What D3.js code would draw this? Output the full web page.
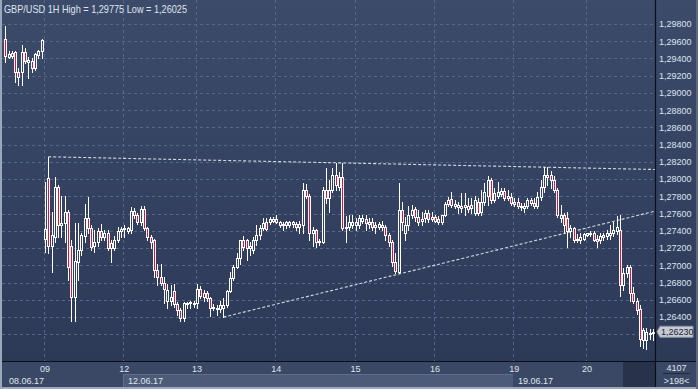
<!DOCTYPE html>
<html><head><meta charset="utf-8">
<script src="https://cdn.jsdelivr.net/npm/d3@7"></script>
<style>
html,body{margin:0;padding:0;background:#34415e;}
svg{display:block;font-family:"Liberation Sans",Arial,sans-serif;}
</style></head><body>
<svg id="c" width="698" height="389"></svg>
<script>
const titleText = "GBP/USD 1H High = 1,29775 Low = 1,26025";
// hourly candles [open, high, low, close], one array per trading day
const d0806 = [
[1.2963,1.29775,1.2936,1.2943],[1.2942,1.2949,1.2941,1.2945],[1.2943,1.2949,1.2941,1.2946],
[1.2947,1.2949,1.2913,1.2924],[1.2924,1.2929,1.2909,1.2918],[1.2924,1.2956,1.2909,1.2947],
[1.2947,1.2952,1.2935,1.2937],[1.2936,1.2942,1.2917,1.2938],[1.2937,1.2941,1.2924,1.2929],
[1.2929,1.2946,1.2927,1.2945],[1.2944,1.2950,1.2941,1.2949],[1.2949,1.2963,1.2941,1.2961]];
const d0906 = [
[1.2731,1.2797,1.2715,1.2742],[1.2801,1.2826,1.2714,1.2723],[1.2722,1.2762,1.2692,1.2735],
[1.2733,1.2802,1.2727,1.2791],[1.2791,1.2793,1.2733,1.2747],[1.2747,1.2781,1.2733,1.2749],
[1.2749,1.2781,1.2727,1.2762],[1.2762,1.2764,1.2683,1.2698],[1.2723,1.2729,1.2636,1.2663],
[1.2663,1.2749,1.2636,1.2705],[1.2704,1.2749,1.2683,1.2718],[1.2718,1.2738,1.2712,1.2735],
[1.2734,1.2771,1.2727,1.2755],[1.2755,1.2779,1.2738,1.2743],[1.2743,1.2747,1.2718,1.2721],
[1.2722,1.2741,1.2715,1.2727],[1.2727,1.2743,1.2722,1.2740],[1.2740,1.2748,1.2729,1.2733],
[1.2733,1.2741,1.2729,1.2737],[1.2738,1.2741,1.2718,1.2720],[1.2720,1.2729,1.2704,1.2726],
[1.2720,1.2734,1.2718,1.2730],[1.2730,1.2744,1.2727,1.2740],[1.2740,1.2745,1.2733,1.2742]];
const d1206 = [
[1.2742,1.2747,1.2733,1.2743],[1.2740,1.2745,1.2738,1.2743],[1.2741,1.2768,1.2738,1.2763],
[1.2763,1.2766,1.2755,1.2758],[1.2758,1.2761,1.2748,1.2750],[1.2750,1.2769,1.2747,1.2765],
[1.2765,1.2769,1.2741,1.2743],[1.2743,1.2745,1.2729,1.2733],[1.2733,1.2735,1.2720,1.2727],
[1.2729,1.2731,1.2686,1.2695],[1.2695,1.2702,1.2677,1.2687],[1.2687,1.2702,1.2677,1.2679],
[1.2679,1.2686,1.2656,1.2673],[1.2659,1.2678,1.2651,1.2672],[1.2659,1.2677,1.2654,1.2663],
[1.2670,1.2678,1.2652,1.2655],[1.2655,1.2657,1.2642,1.2648],[1.2648,1.2650,1.2636,1.2639],
[1.2639,1.2657,1.2636,1.2656],[1.2655,1.2658,1.2651,1.2656],[1.2656,1.2659,1.2651,1.2657],
[1.2655,1.2659,1.2652,1.2656]];
const d1306 = [
[1.2656,1.2678,1.2651,1.2673],[1.2673,1.2676,1.2662,1.2665],[1.2663,1.2671,1.2659,1.2668],
[1.2668,1.2670,1.2659,1.2662],[1.2662,1.2663,1.2641,1.2650],[1.2652,1.2655,1.2648,1.2650],
[1.2651,1.2654,1.2642,1.2649],[1.2649,1.2659,1.2646,1.2654],[1.2650,1.2662,1.2640,1.2654],
[1.2654,1.2671,1.2652,1.2670],[1.2670,1.2692,1.2669,1.2685],[1.2685,1.2700,1.2683,1.2698],
[1.2698,1.2714,1.2697,1.2708],[1.2708,1.2730,1.2702,1.2729],[1.2729,1.2734,1.2718,1.2721],
[1.2729,1.2731,1.2706,1.2720],[1.2720,1.2727,1.2712,1.2722],[1.2718,1.2733,1.2714,1.2729],
[1.2729,1.2747,1.2724,1.2735],[1.2735,1.2747,1.2731,1.2743],[1.2743,1.2755,1.2741,1.2749],
[1.2750,1.2755,1.2741,1.2742],[1.2750,1.2756,1.2748,1.2754],[1.2752,1.2756,1.2750,1.2754]];
const d1406 = [
[1.2754,1.2758,1.2749,1.2750],[1.2750,1.2752,1.2744,1.2747],[1.2747,1.2750,1.2741,1.2748],
[1.2750,1.2752,1.2743,1.2747],[1.2747,1.2752,1.2745,1.2750],[1.2750,1.2752,1.2745,1.2748],
[1.2748,1.2750,1.2741,1.2745],[1.2745,1.2751,1.2737,1.2748],[1.2747,1.2795,1.2737,1.2787],
[1.2787,1.2794,1.2778,1.2781],[1.2781,1.2783,1.2729,1.2738],[1.2738,1.2745,1.2723,1.2741],
[1.2741,1.2742,1.2721,1.2727],[1.2727,1.2731,1.2724,1.2728],[1.2727,1.2791,1.2726,1.2788],
[1.2788,1.2813,1.2772,1.2778],[1.2778,1.2799,1.2762,1.2788],[1.2788,1.2813,1.2785,1.2805],
[1.2805,1.2819,1.2787,1.2793],[1.2791,1.2808,1.2787,1.2802],[1.2802,1.2819,1.2741,1.2743],
[1.2743,1.2757,1.2727,1.2745],[1.2744,1.2758,1.2741,1.2750],[1.2747,1.2758,1.2743,1.2750]];
const d1506 = [
[1.2750,1.2755,1.2741,1.2747],[1.2747,1.2758,1.2743,1.2755],[1.2752,1.2758,1.2749,1.2755],
[1.2754,1.2758,1.2741,1.2749],[1.2748,1.2755,1.2743,1.2750],[1.2750,1.2755,1.2741,1.2744],
[1.2744,1.2750,1.2738,1.2747],[1.2745,1.2750,1.2742,1.2748],[1.2747,1.2752,1.2741,1.2744],
[1.2744,1.2747,1.2729,1.2735],[1.2735,1.2737,1.2722,1.2727],[1.2727,1.2729,1.2699,1.2704],
[1.2704,1.2714,1.2691,1.2694],[1.2692,1.2795,1.2691,1.2764],[1.2764,1.2773,1.2741,1.2750],
[1.2737,1.2756,1.2729,1.2747],[1.2747,1.2769,1.2741,1.2758],[1.2758,1.2770,1.2755,1.2764],
[1.2765,1.2768,1.2752,1.2756],[1.2756,1.2764,1.2747,1.2750],[1.2751,1.2762,1.2747,1.2754],
[1.2755,1.2764,1.2750,1.2761],[1.2761,1.2764,1.2750,1.2754],[1.2754,1.2762,1.2751,1.2756]];
const d1606 = [
[1.2756,1.2759,1.2750,1.2751],[1.2754,1.2757,1.2748,1.2750],[1.2750,1.2759,1.2748,1.2758],
[1.2758,1.2773,1.2757,1.2771],[1.2771,1.2779,1.2769,1.2776],[1.2777,1.2785,1.2768,1.2770],
[1.2771,1.2776,1.2766,1.2769],[1.2768,1.2773,1.2761,1.2770],[1.2766,1.2784,1.2762,1.2769],
[1.2770,1.2784,1.2758,1.2768],[1.2765,1.2778,1.2762,1.2769],[1.2770,1.2778,1.2761,1.2766],
[1.2761,1.2780,1.2758,1.2776],[1.2774,1.2778,1.2758,1.2761],[1.2762,1.2787,1.2759,1.2774],
[1.2774,1.2795,1.2770,1.2785],[1.2781,1.2804,1.2770,1.2799],[1.2799,1.2801,1.2772,1.2776],
[1.2776,1.2790,1.2773,1.2784],[1.2781,1.2797,1.2778,1.2785],[1.2783,1.2790,1.2780,1.2786],
[1.2786,1.2790,1.2776,1.2778],[1.2778,1.2788,1.2776,1.2781],[1.2779,1.2784,1.2770,1.2772]];
const d1906 = [
[1.2774,1.2778,1.2769,1.2771],[1.2773,1.2778,1.2766,1.2769],[1.2768,1.2772,1.2764,1.2769],
[1.2766,1.2772,1.2762,1.2769],[1.2769,1.2778,1.2766,1.2776],[1.2776,1.2778,1.2770,1.2772],
[1.2772,1.2778,1.2766,1.2769],[1.2769,1.2785,1.2766,1.2779],[1.2779,1.2799,1.2776,1.2791],
[1.2791,1.2814,1.2785,1.2805],[1.2802,1.2814,1.2793,1.2805],[1.2805,1.2810,1.2790,1.2799],
[1.2799,1.2804,1.2785,1.2787],[1.2787,1.2790,1.2756,1.2758],[1.2755,1.2770,1.2750,1.2758],
[1.2758,1.2761,1.2738,1.2747],[1.2755,1.2762,1.2721,1.2740],[1.2740,1.2747,1.2733,1.2743],
[1.2743,1.2744,1.2727,1.2729],[1.2729,1.2736,1.2727,1.2731],[1.2729,1.2737,1.2726,1.2733],
[1.2731,1.2738,1.2729,1.2736]];
const d2006 = [
[1.2735,1.2738,1.2734,1.2737],[1.2736,1.2740,1.2734,1.2737],[1.2737,1.2740,1.2728,1.2730],
[1.2731,1.2735,1.2721,1.2728],[1.2729,1.2737,1.2726,1.2734],[1.2735,1.2738,1.2730,1.2733],
[1.2734,1.2741,1.2731,1.2737],[1.2735,1.2747,1.2731,1.2738],[1.2737,1.2750,1.2734,1.2741],
[1.2740,1.2757,1.2736,1.2744],[1.2741,1.2758,1.2665,1.2677],[1.2677,1.2697,1.2671,1.2691],
[1.2691,1.2700,1.2686,1.2698],[1.2698,1.2700,1.2659,1.2668],[1.2668,1.2675,1.2656,1.2659],
[1.2659,1.2662,1.2644,1.2648],[1.2649,1.2654,1.2607,1.2615],[1.2614,1.2627,1.2604,1.2625],
[1.2613,1.2627,1.26025,1.2623],[1.2621,1.2626,1.2615,1.2622],[1.2621,1.2626,1.2613,1.2623]];
const days = [d0806,d0906,d1206,d1306,d1406,d1506,d1606,d1906,d2006];
const dayLabels = [null,"09","12","13","14","15","16","19","20"];
const weekLabels = ["08.06.17","12.06.17","19.06.17"];
const weekStartDay = [0,2,7];
const yTicks = [1.262,1.264,1.266,1.268,1.270,1.272,1.274,1.276,1.278,1.280,1.282,1.284,1.286,1.288,1.290,1.292,1.294,1.296,1.298];
// trend lines: [candle index, price] anchors, extended to the right edge
const trendUpper = [[13,1.2826],[100,1.2819]];
const trendLower = [[66,1.2640],[185,1.2752]];
const footTop = "4107", footBottom = ">198<";

const W=698,H=389,PL=2,PR=655,PT=0,PB=361;
const svg = d3.select("#c");
const defs = svg.append("defs");
const gr = defs.append("linearGradient").attr("id","bg").attr("x1",0).attr("y1",0).attr("x2",0).attr("y2",1);
gr.append("stop").attr("offset",0).attr("stop-color","#3d4b6b");
gr.append("stop").attr("offset",1).attr("stop-color","#2c3957");

svg.append("rect").attr("width",W).attr("height",H).attr("fill","#34415e");
svg.append("rect").attr("x",PL).attr("y",PT).attr("width",PR-PL).attr("height",PB-PT).attr("fill","url(#bg)");
svg.append("rect").attr("x",PR).attr("y",0).attr("width",W-PR).attr("height",PB).attr("fill","url(#bg)");

const candles = days.flat().map(([o,h,l,c],i)=>({i,o,h,l,c}));
const N = candles.length;
const x = d3.scaleBand().domain(d3.range(N)).range([3.6,654.7]);
const xc = i => x(i)+x.bandwidth()/2;
const y = d3.scaleLinear().domain([1.26,1.298]).range([351.6,24]);
const fmt = v => d3.format(".5f")(v).replace(".",",");

let acc=0;
const dayStart = days.map(d=>{const s=acc; acc+=d.length; return s;});

// grid
const grid = svg.append("g").attr("stroke","#56668a").attr("stroke-dasharray","3,3").attr("shape-rendering","crispEdges");
yTicks.forEach(t=>{
  const yy = Math.round(y(t))+0.5;
  grid.append("line").attr("x1",PL).attr("x2",PR).attr("y1",yy).attr("y2",yy);
});
dayStart.forEach((s,k)=>{
  if(!dayLabels[k]) return;
  const xx = Math.round(xc(s)-1)+0.5;
  grid.append("line").attr("x1",xx).attr("x2",xx).attr("y1",PT).attr("y2",PB);
});

// trend lines
function trend(a){
  const x1=xc(a[0][0]), y1=y(a[0][1]), x2=xc(a[1][0]), y2=y(a[1][1]);
  const k=(y2-y1)/(x2-x1);
  svg.append("line").attr("x1",x1).attr("y1",y1).attr("x2",PR).attr("y2",y1+k*(PR-x1))
    .attr("stroke","#d4d8e0").attr("stroke-width",1.1).attr("stroke-dasharray","3,2");
}
trend(trendUpper); trend(trendLower);

// candles
const cg = svg.append("g").attr("shape-rendering","crispEdges");
candles.forEach(d=>{
  const r = Math.round(xc(d.i));
  const top = Math.round(y(Math.max(d.o,d.c)));
  let bot = Math.round(y(Math.min(d.o,d.c)));
  if(bot-top<1) bot = top+1;
  const yh = Math.round(y(d.h)), yl = Math.round(y(d.l));
  if(yh<top) cg.append("line").attr("x1",r+0.5).attr("x2",r+0.5).attr("y1",yh).attr("y2",top).attr("stroke","#fff");
  if(yl>bot) cg.append("line").attr("x1",r+0.5).attr("x2",r+0.5).attr("y1",bot).attr("y2",yl+1).attr("stroke","#fff");
  cg.append("rect").attr("x",r-0.5).attr("y",top+0.5).attr("width",2).attr("height",bot-top)
    .attr("fill", d.c<d.o ? "#dc143c" : "none").attr("stroke","#fff").attr("stroke-width",1);
});

// title
svg.append("text").attr("x",4).attr("y",12.5).attr("font-size",10.5).attr("fill","#dfe5ef")
  .attr("textLength",183).attr("lengthAdjust","spacingAndGlyphs").text(titleText);

// right axis labels
yTicks.forEach(t=>{
  if(t<1.263) return;
  svg.append("text").attr("x",659).attr("y",y(t)+3.3).attr("font-size",9).attr("fill","#dde4f0").text(fmt(t));
});

// bottom panel
const bot = svg.append("g");
bot.append("rect").attr("x",0).attr("y",PB).attr("width",W).attr("height",H-PB).attr("fill","#3b4865");
const weekX = weekStartDay.map((dk,k)=> k===0 ? PL : Math.round(xc(dayStart[dk])-1));
weekLabels.forEach((lab,k)=>{
  const x0 = weekX[k], x1 = k<weekLabels.length-1 ? weekX[k+1] : 623;
  if(k%2===1){
    bot.append("rect").attr("x",x0).attr("y",374).attr("width",x1-x0).attr("height",13).attr("fill","#4d5b78");
    bot.append("line").attr("x1",x0).attr("x2",x1).attr("y1",374.5).attr("y2",374.5).attr("stroke","#5f6e8c");
    bot.append("line").attr("x1",x0+0.5).attr("x2",x0+0.5).attr("y1",374).attr("y2",387).attr("stroke","#5f6e8c");
  }
  bot.append("text").attr("x",x0+(k===0?7:5)).attr("y",384).attr("font-size",9).attr("fill","#dfe5ef").text(lab);
});
bot.append("rect").attr("x",623).attr("y",362).attr("width",PR-623).attr("height",25).attr("fill","#28334b");
dayStart.forEach((s,k)=>{
  if(!dayLabels[k]) return;
  bot.append("text").attr("x",xc(s)).attr("y",371.5).attr("text-anchor","middle").attr("font-size",9)
    .attr("fill","#dfe5ef").text(dayLabels[k]);
});
// bottom-right box
bot.append("text").attr("x",676.5).attr("y",370.5).attr("text-anchor","middle").attr("font-size",9).attr("fill","#dfe5ef").text(footTop);
bot.append("line").attr("x1",663).attr("x2",690).attr("y1",373.5).attr("y2",373.5).attr("stroke","#1f293d");
bot.append("text").attr("x",676.5).attr("y",384).attr("text-anchor","middle").attr("font-size",9).attr("fill","#dfe5ef").text(footBottom);

// separator lines and frame
svg.append("line").attr("x1",0).attr("x2",W).attr("y1",PB+0.5).attr("y2",PB+0.5).attr("stroke","#0b0f18").attr("stroke-width",1.2);
svg.append("line").attr("x1",PR+0.5).attr("x2",PR+0.5).attr("y1",0).attr("y2",H).attr("stroke","#0b0f18").attr("stroke-width",1.2);
svg.append("rect").attr("x",0).attr("y",0).attr("width",2).attr("height",H).attr("fill","#9aa8be");
svg.append("rect").attr("x",0).attr("y",H-2).attr("width",W).attr("height",2).attr("fill","#9aa8be");
svg.append("rect").attr("x",W-2).attr("y",0).attr("width",2).attr("height",H).attr("fill","#5b6882");

// current price marker
const last = candles[N-1].c, yc = y(last);
svg.append("path").attr("d",`M${PR+2},${yc} L${PR+5},${yc-5.5} L${PR+38},${yc-5.5} L${PR+38},${yc+5.5} L${PR+5},${yc+5.5} Z`)
  .attr("fill","#c5cad3").attr("stroke","#8d95a5");
svg.append("text").attr("x",PR+6).attr("y",yc+3.3).attr("font-size",9).attr("fill","#1b2233").text(fmt(last));
</script>
</body></html>
